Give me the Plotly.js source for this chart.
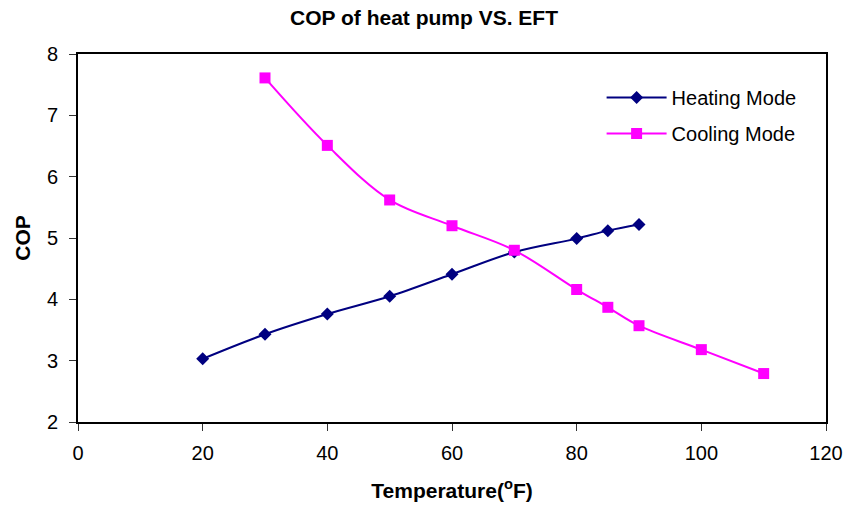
<!DOCTYPE html>
<html>
<head>
<meta charset="utf-8">
<script src="https://cdn.plot.ly/plotly-3.0.1.min.js"></script>
<style>
  html, body { margin: 0; padding: 0; background: #ffffff; }
  #chart { width: 848px; height: 510px; }
</style>
</head>
<body>
<div id="chart"></div>
<script>
// Entering fluid temperature (°F) and coefficient of performance per mode
const heatingTemp = [20, 30, 40, 50, 60, 70, 80, 85, 90];
const heatingCOP  = [3.03, 3.43, 3.76, 4.05, 4.41, 4.77, 4.99, 5.12, 5.22];

const coolingTemp = [30, 40, 50, 60, 70, 80, 85, 90, 100, 110];
const coolingCOP  = [7.61, 6.51, 5.62, 5.20, 4.80, 4.16, 3.87, 3.57, 3.18, 2.79];

const xTickVals = [0, 20, 40, 60, 80, 100, 120];
const yTickVals = [2, 3, 4, 5, 6, 7, 8];

const FONT = '"Liberation Sans", Arial, sans-serif';

const traces = [
  {
    name: 'Heating Mode',
    x: heatingTemp,
    y: heatingCOP,
    mode: 'lines+markers',
    legendgroup: 'heating',
    line: { color: '#000080', width: 2, shape: 'spline', smoothing: 1 },
    marker: { symbol: 'diamond', size: 10, color: '#000080' }
  },
  {
    name: 'Cooling Mode',
    x: coolingTemp,
    y: coolingCOP,
    mode: 'lines+markers',
    legendgroup: 'cooling',
    line: { color: '#FF00FF', width: 2, shape: 'spline', smoothing: 1 },
    marker: { symbol: 'square', size: 11, color: '#FF00FF' }
  }
];

const axisCommon = {
  showgrid: false,
  zeroline: false,
  showline: true,
  mirror: true,
  linecolor: '#000000',
  linewidth: 2,
  ticks: 'outside',
  ticklen: 7,
  tickwidth: 1,
  tickcolor: '#333333',
  tickfont: { family: FONT, size: 20, color: '#000000' }
};

const layout = {
  width: 848,
  height: 510,
  paper_bgcolor: '#ffffff',
  plot_bgcolor: '#ffffff',
  margin: { l: 78, r: 22, t: 54, b: 88 },
  title: {
    text: '<b>COP of heat pump VS. EFT</b>',
    font: { family: FONT, size: 21, color: '#000000' },
    x: 0.5,
    xref: 'container',
    xanchor: 'center',
    y: 0.965,
    yref: 'container',
    yanchor: 'middle'
  },
  xaxis: Object.assign({}, axisCommon, {
    range: [0, 120],
    tickvals: xTickVals,
    ticktext: xTickVals.map(String),
    ticklabelstandoff: 5,
    title: {
      text: '<b>Temperature(<sup>o</sup>F)</b>',
      font: { family: FONT, size: 21, color: '#000000' },
      standoff: 20
    }
  }),
  yaxis: Object.assign({}, axisCommon, {
    range: [2, 8],
    tickvals: yTickVals,
    ticktext: yTickVals.map(String),
    ticklabelstandoff: 7,
    title: {
      text: '<b>COP</b>',
      font: { family: FONT, size: 21, color: '#000000' },
      standoff: 11
    }
  }),
  showlegend: true,
  legend: {
    x: 0.70,
    y: 0.935,
    xanchor: 'left',
    yanchor: 'top',
    bgcolor: 'rgba(0,0,0,0)',
    borderwidth: 0,
    traceorder: 'grouped',
    tracegroupgap: 7,
    itemwidth: 60,
    font: { family: FONT, size: 20, color: '#000000' }
  }
};

Plotly.newPlot('chart', traces, layout, { displayModeBar: false, staticPlot: true });
</script>
</body>
</html>
